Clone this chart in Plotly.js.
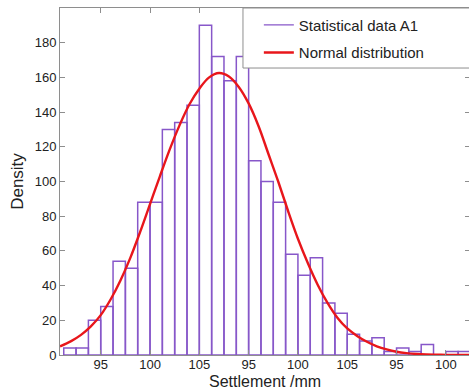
<!DOCTYPE html>
<html>
<head>
<meta charset="utf-8">
<script src="https://cdn.plot.ly/plotly-3.0.1.min.js"></script>
<style>
  html, body { margin: 0; padding: 0; overflow: hidden; background: #fff; }
  #chart { width: 471px; height: 392px; }
</style>
</head>
<body>
<div id="chart"></div>
<script>
// Histogram bins (left edges) and counts
const binStart = 91.25;
const binWidth = 1.25;
const counts = [4, 4, 20, 28, 54, 50, 88, 88, 130, 134, 144, 190, 172, 158, 172, 112,
                100, 88, 58, 46, 56, 30, 24, 12, 8, 10, 2, 4, 2, 6, 0, 2, 2];

// Normal distribution curve
const curveX = [90.87, 92, 93, 94, 95, 96, 97, 98, 99, 100, 101, 102, 103, 104, 105, 106,
                107, 108, 109, 110, 111, 112, 113, 114, 115, 116, 117, 118, 119, 120,
                121, 122, 123, 124, 125, 126, 127, 128, 129, 130, 131, 132.45];
const curveY = [5.0, 8, 11.6, 16.5, 23, 32, 43, 56, 71, 87, 103, 118.5, 132.5, 144.5, 153.5, 160,
                162.5, 160.5, 154.5, 145, 132, 116, 100, 83, 67, 53, 40.5, 30, 21.5, 15.3,
                11, 7.6, 5, 3.2, 1.9, 1.1, 0.6, 0.3, 0.15, 0.07, 0.03, 0.01];

// Tick values and the labels as printed in the reference
const tickVals = [95, 100, 105, 110, 115, 120, 125, 130];
const tickText = ['95', '100', '105', '95', '100', '105', '95', '100'];

const xTitle = 'Settlement /mm';
const yTitle = 'Density';

const barX = counts.map((_, i) => binStart + binWidth * (i + 0.5));

const purple = '#8757c9';
const red = '#e8161b';
const axisGray = '#8e8e8e';

const traces = [
  {
    type: 'bar', x: barX, y: counts, width: binWidth,
    marker: { color: 'rgba(255,255,255,0)', line: { color: purple, width: 1.5 } },
    showlegend: false, hoverinfo: 'x+y'
  },
  {
    type: 'scatter', mode: 'lines', x: [null], y: [null],
    name: 'Statistical data A1', legendgroup: 'a',
    line: { color: purple, width: 1.3 }
  },
  {
    type: 'scatter', mode: 'lines', x: curveX, y: curveY,
    name: 'Normal distribution', legendgroup: 'b',
    line: { color: red, width: 2.4, shape: 'spline', smoothing: 1 }
  }
];

const layout = {
  width: 471, height: 392,
  margin: { l: 60, r: 1, t: 8, b: 37 },
  paper_bgcolor: '#fff', plot_bgcolor: '#fff',
  font: { family: 'Liberation Sans, Arial, sans-serif', color: '#222' },
  bargap: 0,
  xaxis: {
    range: [90.87, 132.45], tickvals: tickVals, ticktext: tickText,
    ticks: 'inside', ticklen: 5, tickcolor: axisGray, tickwidth: 1,
    showline: true, linecolor: axisGray, linewidth: 1, mirror: 'ticks',
    showgrid: false, zeroline: false, ticklabelstandoff: -3,
    tickfont: { size: 13, color: '#222' }
  },
  yaxis: {
    range: [0, 200], tickvals: [0, 20, 40, 60, 80, 100, 120, 140, 160, 180],
    ticks: 'inside', ticklen: 5, tickcolor: axisGray, tickwidth: 1,
    showline: true, linecolor: axisGray, linewidth: 1, mirror: 'ticks',
    showgrid: false, zeroline: false,
    tickfont: { size: 13, color: '#222' },
    title: { text: yTitle, font: { size: 17, color: '#222' }, standoff: 6 }
  },
  annotations: [
    { text: xTitle, xref: 'paper', yref: 'paper', x: 0.5, y: 0, xanchor: 'center', yanchor: 'bottom',
      yshift: -37, showarrow: false, font: { size: 16, color: '#222' } }
  ],
  shapes: [
    { type: 'rect', xref: 'paper', yref: 'paper', x0: 0.4463, x1: 1.1, y0: 0.827, y1: 1,
      fillcolor: '#fff', line: { color: axisGray, width: 1 }, layer: 'above' }
  ],
  legend: {
    x: 0.485, xanchor: 'left', y: 0.998, yanchor: 'top',
    bgcolor: 'rgba(0,0,0,0)', borderwidth: 0,
    font: { size: 15, color: '#222' }, tracegroupgap: 5
  }
};

Plotly.newPlot('chart', traces, layout, { displayModeBar: false, staticPlot: true });
</script>
</body>
</html>
